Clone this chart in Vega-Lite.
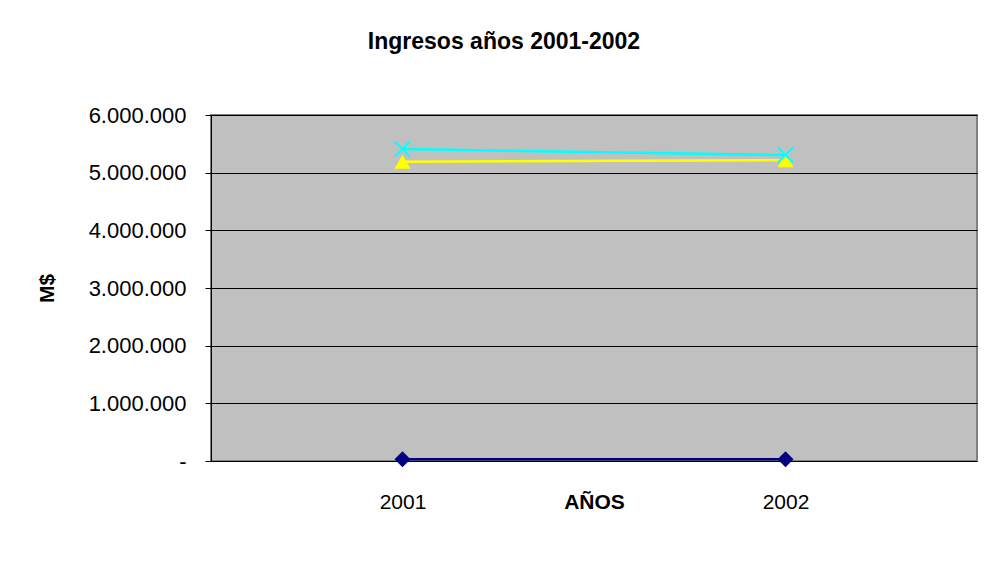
{
  "$schema": "https://vega.github.io/schema/vega-lite/v6.json",
  "width": 766,
  "height": 346,
  "autosize": "none",
  "padding": {"left": 211, "top": 115, "right": 14, "bottom": 122},
  "background": "#ffffff",
  "config": {
    "font": "Liberation Sans",
    "view": {"fill": "#C0C0C0", "stroke": "#808080", "strokeWidth": 2},
    "style": {"guide-label": {"fontSize": 15, "fill": "#000000"}}
  },
  "title": {
    "text": "Ingresos años 2001-2002",
    "fontSize": 23,
    "fontWeight": "bold",
    "color": "#000000",
    "anchor": "middle",
    "frame": "group",
    "dx": -90,
    "baseline": "alphabetic",
    "offset": 32
  },
  "data": {
    "values": [
      {"year": "2001", "series": "Ingresos de Operación", "value": 31000},
      {"year": "2002", "series": "Ingresos de Operación", "value": 29000},
      {"year": "2001", "series": "Aporte Fiscal", "value": 5190000},
      {"year": "2002", "series": "Aporte Fiscal", "value": 5215000},
      {"year": "2001", "series": "Total Ingresos", "value": 5410000},
      {"year": "2002", "series": "Total Ingresos", "value": 5305000}
    ]
  },
  "encoding": {
    "x": {
      "field": "year",
      "type": "nominal",
      "scale": {"type": "point", "padding": 0.5},
      "axis": {
        "title": "AÑOS",
        "labelAngle": 0,
        "ticks": false,
        "tickSize": 0,
        "domain": false,
        "grid": false,
        "labelPadding": 47,
        "labelBaseline": "alphabetic",
        "labelFontSize": 21,
        "labelColor": "#000000",
        "titleFontSize": 21,
        "titleFontWeight": "bold",
        "titleColor": "#000000",
        "titleBaseline": "alphabetic",
        "titleY": 47
      }
    },
    "y": {
      "field": "value",
      "type": "quantitative",
      "scale": {"domain": [0, 6000000], "nice": false},
      "axis": {
        "title": "M$",
        "titleFontSize": 21,
        "titleFontWeight": "bold",
        "titleColor": "#000000",
        "titleX": -164,
        "titleBaseline": "middle",
        "values": [0, 1000000, 2000000, 3000000, 4000000, 5000000, 6000000],
        "labelExpr": "datum.value == 0 ? '-' : replace(replace(format(datum.value, ','), ',', '.'), ',', '.')",
        "labelPadding": 19,
        "labelFontSize": 22,
        "labelColor": "#000000",
        "tickSize": 6,
        "tickColor": "#000000",
        "domainColor": "#000000",
        "domainWidth": 1,
        "grid": true,
        "gridColor": "#000000",
        "gridWidth": 1,
        "gridOpacity": 1
      }
    }
  },
  "layer": [
    {
      "mark": {"type": "line", "strokeWidth": 2.5},
      "encoding": {
        "color": {
          "field": "series",
          "type": "nominal",
          "scale": {
            "domain": ["Ingresos de Operación", "Aporte Fiscal", "Total Ingresos"],
            "range": ["#000080", "#FFFF00", "#00FFFF"]
          },
          "legend": null
        }
      }
    },
    {
      "transform": [{"filter": "datum.series == 'Ingresos de Operación'"}],
      "mark": {"type": "point", "shape": "diamond", "filled": true, "opacity": 1, "size": 256, "color": "#000080"}
    },
    {
      "transform": [{"filter": "datum.series == 'Aporte Fiscal'"}],
      "mark": {"type": "point", "shape": "triangle-up", "filled": true, "opacity": 1, "size": 256, "color": "#FFFF00"}
    },
    {
      "transform": [{"filter": "datum.series == 'Total Ingresos'"}],
      "mark": {"type": "point", "shape": "M-1,-1L1,1M-1,1L1,-1", "filled": false, "opacity": 1, "size": 225, "color": "#00FFFF", "strokeWidth": 2}
    },
    {
      "transform": [{"filter": "datum.value < 0"}],
      "mark": {"type": "point", "filled": true, "opacity": 1},
      "encoding": {
        "shape": {
          "field": "series",
          "type": "nominal",
          "scale": {
            "domain": ["Ingresos de Operación", "Aporte Fiscal", "Total Ingresos"],
            "range": [
              "M-4,-0.2L4,-0.2L4,0.2L-4,0.2Z M0,-1L0.92,0L0,1L-0.92,0Z",
              "M-4,-0.2L4,-0.2L4,0.2L-4,0.2Z M0,-1L1.14,0.95L-1.14,0.95Z",
              "M-4,-0.2L4,-0.2L4,0.2L-4,0.2Z M-0.887,-1.113L1.113,0.887L0.887,1.113L-1.113,-0.887Z M-1.113,0.887L0.887,-1.113L1.113,-0.887L-0.887,1.113Z"
            ]
          },
          "legend": {
            "title": null,
            "orient": "bottom",
            "direction": "horizontal",
            "symbolOffset": 12.5,
            "labelOffset": 28
          }
        },
        "fill": {
          "field": "series",
          "type": "nominal",
          "scale": {
            "domain": ["Ingresos de Operación", "Aporte Fiscal", "Total Ingresos"],
            "range": ["#000080", "#FFFF00", "#00FFFF"]
          },
          "legend": {
            "title": null,
            "orient": "bottom",
            "direction": "horizontal",
            "symbolOffset": 12.5,
            "labelOffset": 28
          }
        }
      }
    }
  ]
}
